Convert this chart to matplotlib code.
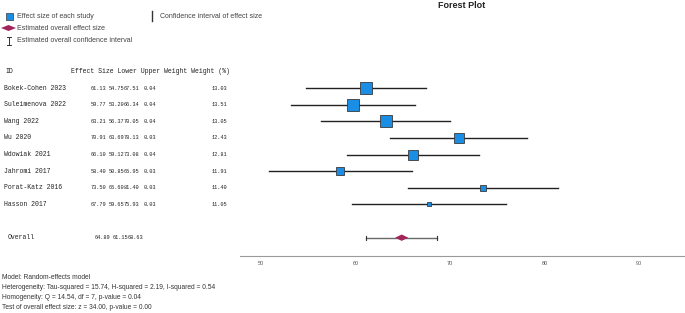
import matplotlib
matplotlib.use("Agg")
import matplotlib.pyplot as plt
from matplotlib.transforms import blended_transform_factory
from matplotlib.lines import Line2D
from matplotlib.patches import Polygon, Rectangle

# ---- data ----
studies = ["Bokek-Cohen 2023", "Suleimenova 2022", "Wang 2022", "Wu 2020",
           "Wdowiak 2021", "Jahromi 2017", "Porat-Katz 2016", "Hasson 2017"]
effect = [61.13, 59.77, 63.21, 70.91, 66.10, 58.40, 73.50, 67.79]
lower = [54.75, 53.20, 56.37, 63.69, 59.12, 50.85, 65.60, 59.65]
upper = [67.51, 66.34, 70.05, 78.13, 73.08, 65.95, 81.40, 75.93]
weight = [0.04, 0.04, 0.04, 0.03, 0.04, 0.03, 0.03, 0.03]
weight_pct = [13.03, 13.51, 13.05, 12.43, 12.81, 11.91, 11.40, 11.05]
overall = (64.89, 61.15, 68.63)
xticks = [50, 60, 70, 80, 90]
footnotes = [
    "Model: Random-effects model",
    "Heterogeneity: Tau-squared = 15.74, H-squared = 2.19, I-squared = 0.54",
    "Homogeneity: Q = 14.54, df = 7, p-value = 0.04",
    "Test of overall effect size: z = 34.00, p-value = 0.00",
]

W, H = 685, 313
fig = plt.figure(figsize=(W / 100, H / 100), dpi=100)

def fx(px):
    return px / W

def fy(py):
    return 1 - py / H

ax = fig.add_axes([fx(240), fy(256.3), fx(684) - fx(240), fy(60) - fy(256.3)])
ax.set_xlim(47.78, 94.76)
ax.set_ylim(10.12, -1.684)
for s in ["top", "right", "left"]:
    ax.spines[s].set_visible(False)
ax.spines["bottom"].set_color("#9a9a9a")
ax.spines["bottom"].set_linewidth(0.8)
ax.set_yticks([])
ax.set_xticks(xticks)
ax.set_xticklabels([str(t) for t in xticks], fontsize=4, color="#555555",
                   family="Liberation Sans")
ax.tick_params(axis="x", length=0, pad=3.5)

sq_color = "#1a8ee4"
for i in range(len(studies)):
    ax.plot([lower[i], upper[i]], [i, i], color="#222222", lw=1.0, zorder=2)
    side_px = 4.7 + 3.25 * (weight_pct[i] - 11.05)
    ax.plot(effect[i], i, marker="s", ms=side_px * 0.72, mfc=sq_color,
            mec="#3a3a3a", mew=0.6, zorder=3)

# overall
oy = 9
ax.plot([overall[1], overall[2]], [oy, oy], color="#6a6a6a", lw=1.0, zorder=2)
for xe in (overall[1], overall[2]):
    ax.plot([xe, xe], [oy - 0.12, oy + 0.12], color="#333333", lw=0.8, zorder=2)
hw = 6.5 / 9.45
hh = 3.2 / 16.63
ax.fill([overall[0] - hw, overall[0], overall[0] + hw, overall[0]],
        [oy, oy - hh, oy, oy + hh], color="#a3245a", zorder=3, lw=0)

# table
tr = blended_transform_factory(fig.transFigure, ax.transData)
mono = "Liberation Mono"
tc = "#222222"
fs_n = 4.7
fs_v = 3.75
def t(xpx, y, s, fs):
    ax.text(fx(xpx), y, s, transform=tr, fontsize=fs, family=mono, color=tc, va="center")

t(5, -1, "ID", fs_n)
t(70.7, -1, "Effect Size Lower Upper Weight Weight (%)", fs_n)
for i in range(len(studies)):
    t(4, i, studies[i], fs_n)
    t(90.7, i, f"{effect[i]:.2f}", fs_v)
    t(108.5, i, f"{lower[i]:.2f}", fs_v)
    t(123.7, i, f"{upper[i]:.2f}", fs_v)
    t(144, i, f"{weight[i]:.2f}", fs_v)
    t(212, i, f"{weight_pct[i]:.2f}", fs_v)
t(8, oy, "Overall", fs_n)
t(95, oy, f"{overall[0]:.2f}", fs_v)
t(112.7, oy, f"{overall[1]:.2f}", fs_v)
t(128, oy, f"{overall[2]:.2f}", fs_v)

# title
fig.text(fx(462), fy(5), "Forest Plot", ha="center", va="center", fontsize=6.5,
         fontweight="bold", family="Liberation Sans", color="#222222")

# legend (figure-level)
sans = "Liberation Sans"
lc = "#444444"
fig.text(fx(17.3), fy(16), "Effect size of each study", fontsize=5, family=sans, color=lc, va="center")
fig.text(fx(17.3), fy(28), "Estimated overall effect size", fontsize=5, family=sans, color=lc, va="center")
fig.text(fx(17.3), fy(41), "Estimated overall confidence interval", fontsize=5, family=sans, color=lc, va="center")
fig.text(fx(160), fy(16), "Confidence interval of effect size", fontsize=5, family=sans, color=lc, va="center")
fig.patches.append(Rectangle((fx(6), fy(19.5)), fx(7), fy(12.5) - fy(19.5), transform=fig.transFigure,
                             facecolor=sq_color, edgecolor="#3a3a3a", lw=0.5))
fig.patches.append(Polygon([(fx(1), fy(28)), (fx(8.5), fy(25)), (fx(16), fy(28)), (fx(8.5), fy(31))],
                           closed=True, transform=fig.transFigure, facecolor="#a3245a", lw=0))
fig.lines.append(Line2D([fx(8.5), fx(8.5)], [fy(37), fy(45)], transform=fig.transFigure, color="#333333", lw=0.7))
fig.lines.append(Line2D([fx(6.5), fx(10.5)], [fy(37), fy(37)], transform=fig.transFigure, color="#333333", lw=0.7))
fig.lines.append(Line2D([fx(6.5), fx(10.5)], [fy(45), fy(45)], transform=fig.transFigure, color="#333333", lw=0.7))
fig.lines.append(Line2D([fx(152), fx(152)], [fy(11), fy(21)], transform=fig.transFigure, color="#333333", lw=1.0))

# footnotes
for k, line in enumerate(footnotes):
    fig.text(fx(2), fy(277.7 + 9.9 * k), line, fontsize=4.8, family=sans, color="#333333", va="center")

fig.savefig("out.png", dpi=100, facecolor="white")
